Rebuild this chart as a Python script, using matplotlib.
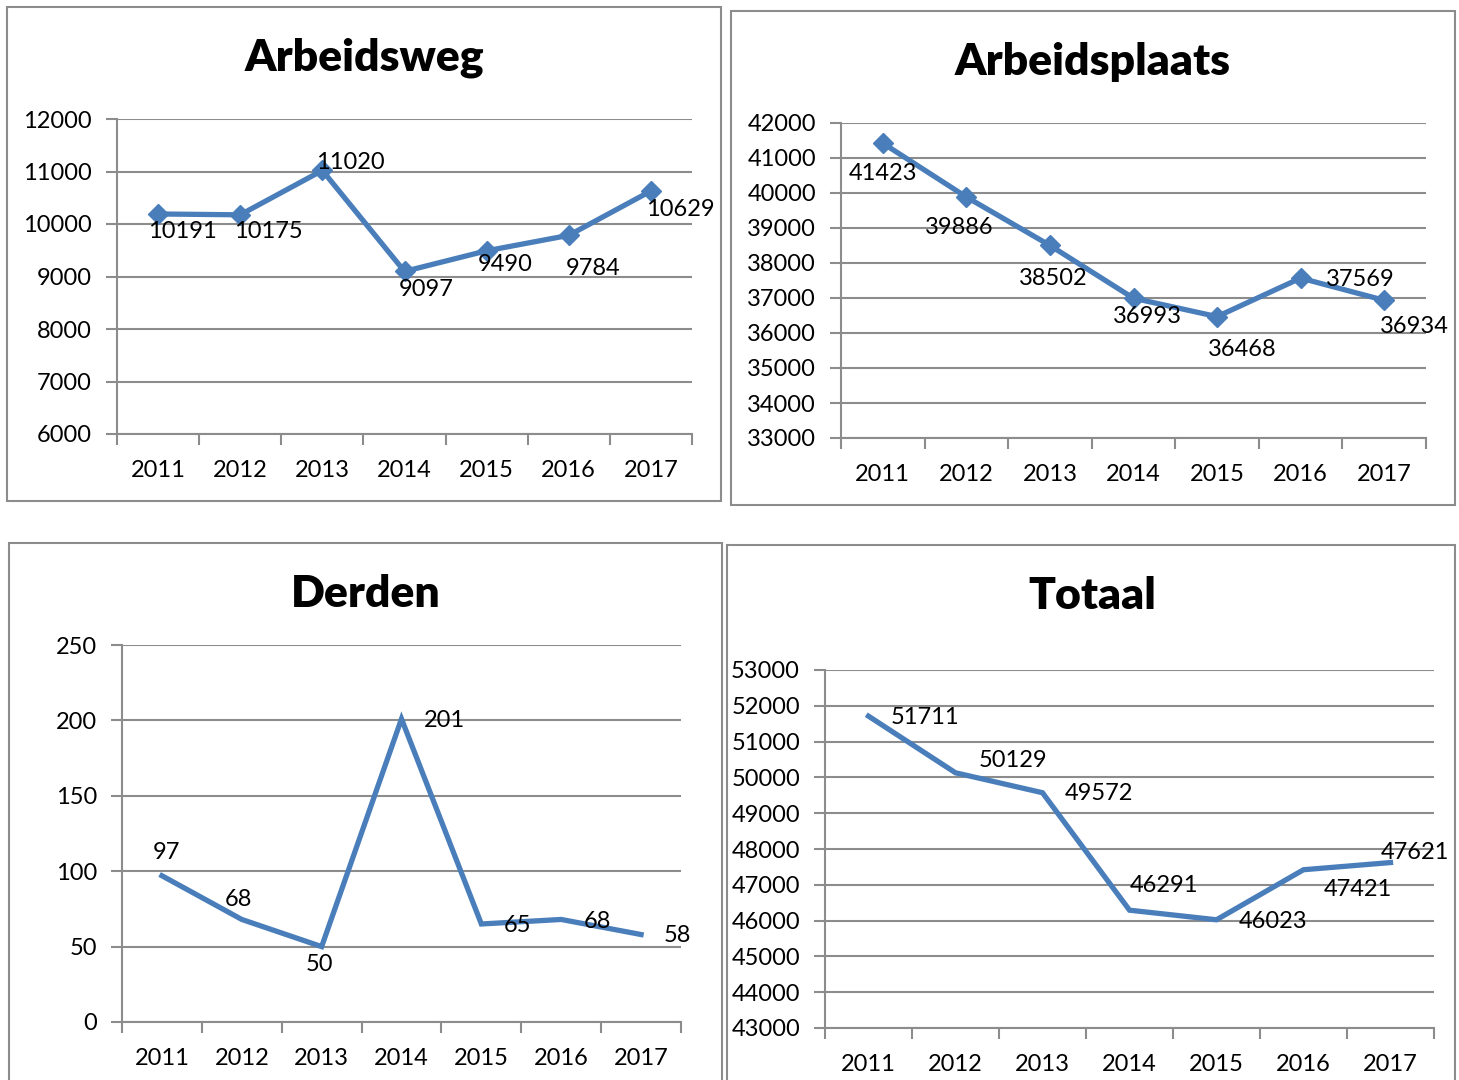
import numpy as np
import matplotlib
matplotlib.use("Agg")
import matplotlib.pyplot as plt
from matplotlib.patches import Rectangle

plt.rcParams['font.family'] = ['Lato', 'DejaVu Sans']

W, H = 1459, 1080

years = ["2011", "2012", "2013", "2014", "2015", "2016", "2017"]

arbeidsweg = [10191, 10175, 11020, 9097, 9490, 9784, 10629]
arbeidsplaats = [41423, 39886, 38502, 36993, 36468, 37569, 36934]
derden = [97, 68, 50, 201, 65, 68, 58]
totaal = [51711, 50129, 49572, 46291, 46023, 47421, 47621]

titles = ["Arbeidsweg", "Arbeidsplaats", "Derden", "Totaal"]

blue = "#4a7ebb"
grey = "#8c8c8c"

fig = plt.figure(figsize=(W / 100, H / 100), dpi=100)


def fx(x):
    return x / W


def fy(y):
    return 1 - y / H


def panel(box, area, title_xy, title, values, ylim, ystep, offsets, markers):
    # outer frame of the chart object
    x0, y0, x1, y1 = box
    fig.patches.append(Rectangle((fx(x0), fy(y1)), fx(x1 - x0), (y1 - y0) / H,
                                 transform=fig.transFigure, fill=False,
                                 edgecolor=grey, linewidth=1.5))
    fig.text(fx(title_xy[0]), fy(title_xy[1]), title, ha="center", va="center",
             fontsize=32, fontweight="heavy")

    l, t, r, b = area
    ax = fig.add_axes([fx(l), fy(b), fx(r - l), (b - t) / H])
    x = np.arange(len(years))
    ax.plot(x, values, color=blue, linewidth=3.8, solid_joinstyle="miter",
            marker="D" if markers else None, markersize=10, zorder=3, clip_on=False)
    ax.set_xlim(-0.5, len(years) - 0.5)
    ax.set_ylim(*ylim)
    ax.set_yticks(np.arange(ylim[0], ylim[1] + 1, ystep))
    ax.set_xticks(np.arange(-0.5, len(years)), labels=[""] * (len(years) + 1))
    ax.set_xticks(x, labels=years, minor=True)
    ax.tick_params(axis="x", which="major", length=8, width=1.5, color=grey, direction="out")
    ax.tick_params(axis="x", which="minor", length=0, pad=19, labelsize=17)
    ax.tick_params(axis="y", length=8, width=1.5, color=grey, labelsize=17, pad=10)
    ax.grid(axis="y", color=grey, linewidth=1.5)
    ax.set_axisbelow(True)
    for s in ["top", "right"]:
        ax.spines[s].set_visible(False)
    for s in ["left", "bottom"]:
        ax.spines[s].set_color(grey)
        ax.spines[s].set_linewidth(1.5)
    for i, v in enumerate(values):
        ax.annotate(str(v), (i, v), xytext=offsets[i], textcoords="offset pixels",
                    ha="center", va="center", fontsize=17, zorder=4)
    return ax


panel((7, 7, 721, 501), (117, 119, 692, 434), (364, 58), titles[0], arbeidsweg,
      (6000, 12000), 1000,
      [(24, -18), (28, -17), (28, 8), (22, -18), (19, -14), (24, -33), (29, -19)], True)

panel((731, 11, 1455, 505), (841, 123, 1426, 438), (1093, 62), titles[1], arbeidsplaats,
      (33000, 42000), 1000,
      [(0, -30), (-7, -31), (3, -33), (14, -18), (25, -33), (60, -1), (30, -26)], True)

panel((9, 543, 722, 1085), (122, 645, 681, 1022), (366, 594), titles[2], derden,
      (0, 250), 50,
      [(5, 23), (-3, 20), (-2, -18), (43, -2), (36, -2), (36, -2), (36, -1)], False)

panel((727, 545, 1455, 1085), (825, 670, 1434, 1028), (1092, 596), titles[3], totaal,
      (43000, 53000), 1000,
      [(57, -1), (57, 12), (56, -1), (35, 25), (57, -2), (54, -20), (24, 10)], False)

fig.savefig("out.png", dpi=100, facecolor="white")
